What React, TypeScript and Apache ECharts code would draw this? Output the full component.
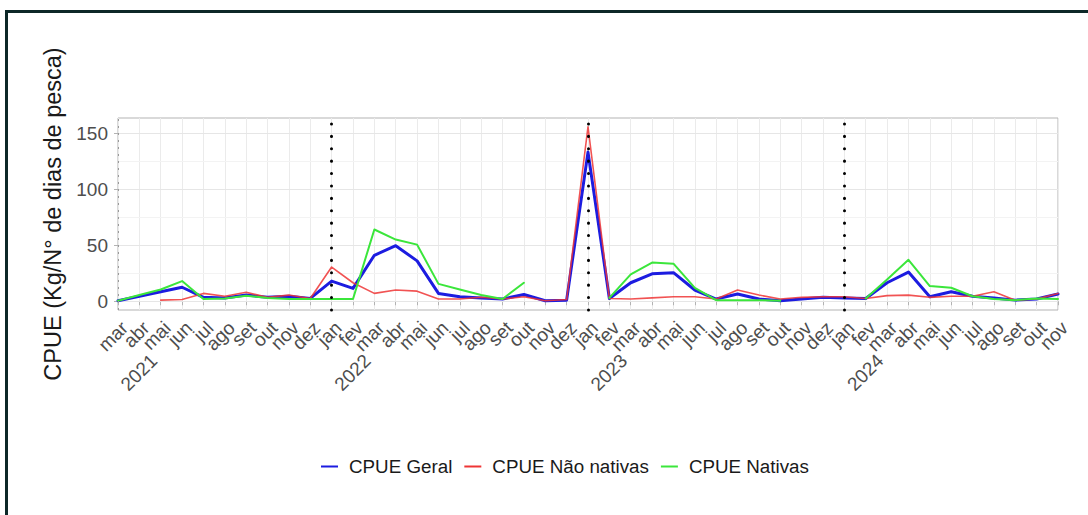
import React, { useEffect, useRef } from "react";
import * as echarts from "echarts";

const FONT = "'Liberation Sans', Arial, Helvetica, sans-serif";

const dates = [
  "2021-03", "2021-04", "2021-05", "2021-06", "2021-07", "2021-08", "2021-09", "2021-10", "2021-11", "2021-12",
  "2022-01", "2022-02", "2022-03", "2022-04", "2022-05", "2022-06", "2022-07", "2022-08", "2022-09", "2022-10", "2022-11", "2022-12",
  "2023-01", "2023-02", "2023-03", "2023-04", "2023-05", "2023-06", "2023-07", "2023-08", "2023-09", "2023-10", "2023-11", "2023-12",
  "2024-01", "2024-02", "2024-03", "2024-04", "2024-05", "2024-06", "2024-07", "2024-08", "2024-09", "2024-10", "2024-11",
];

const monthLabels = [
  "mar", "abr", "mai", "jun", "jul", "ago", "set", "out", "nov", "dez",
  "jan", "fev", "mar", "abr", "mai", "jun", "jul", "ago", "set", "out", "nov", "dez",
  "jan", "fev", "mar", "abr", "mai", "jun", "jul", "ago", "set", "out", "nov", "dez",
  "jan", "fev", "mar", "abr", "mai", "jun", "jul", "ago", "set", "out", "nov",
];

const yearLabels = ["2021", "2022", "2023", "2024"];
const yearStartIndex = [0, 10, 22, 34];

const cpueGeral = [
  0.5, 4.5, 8.5, 12.5, 3.5, 3, 5.5, 3.5, 4.5, 2.5,
  18, 11.5, 41, 49.5, 36, 7, 4, 3, 2, 6, 0.5, 1,
  133, 2.5, 16.5, 24.5, 25.5, 10, 2, 6.5, 2, 0.5, 2, 3.5,
  3, 2.5, 16.5, 26, 4, 8.5, 4.5, 3, 1, 2, 6.5,
];

const cpueNaoNativas = [
  null, null, 1, 1.5, 7, 4.5, 8, 3.5, 5.5, 2.5,
  30.5, 16.5, 7, 10, 9, 2, 2, 3.5, 2, 4, 0.5, 1.5,
  155.6, 2.5, 2, 3, 4, 4, 2, 10, 5.5, 2, 3.5, 4,
  4, 2.5, 5, 5.5, 3.5, 4.5, 4.5, 8.5, 1, 2, 7,
];

const cpueNativas = [
  0.5, 5.5, 10.5, 18, 2, 2.5, 5, 3, 2, 2,
  2, 2, 64, 55, 50.5, 15.5, 10.5, 5.5, 2, 16.5, null, null,
  null, 3, 24, 34.5, 33.5, 12, 1, 1, 1, 0.5, null, null,
  null, 2.5, 19.5, 37, 13.5, 12, 4.5, 2, 1, 2.5, 2,
];

const yTicks = [0, 50, 100, 150];
const yGrid = [0, 25, 50, 75, 100, 125, 150];
const yearBreaks = ["2022-01", "2023-01", "2024-01"];

const seriesNames = ["CPUE Geral", "CPUE Não nativas", "CPUE Nativas"];

export default function App() {
  const ref = useRef<HTMLDivElement>(null);

  useEffect(() => {
    if (!ref.current) return;
    const chart = echarts.init(ref.current, undefined, { renderer: "svg" });
    const option: any = {
      animation: false,
      textStyle: { fontFamily: FONT },
      grid: {
        left: 118,
        top: 118,
        width: 940,
        height: 192,
        show: true,
        borderColor: "#b3b3b3",
        borderWidth: 1,
        backgroundColor: "transparent",
        containLabel: false,
      },
      legend: {
        data: seriesNames,
        left: 316,
        top: 452,
        icon: "rect",
        itemWidth: 17,
        itemHeight: 2,
        itemGap: 12,
        textStyle: { fontSize: 18.8, color: "#1a1a1a", fontFamily: FONT, padding: [0, 0, 0, 6] },
      },
      xAxis: [
        {
          type: "category",
          data: dates,
          boundaryGap: false,
          axisLine: { show: false },
          axisTick: { show: true, interval: 0, length: 4, lineStyle: { color: "#b3b3b3" } },
          splitLine: { show: true, interval: 0, lineStyle: { color: "#ebebeb", width: 1 } },
          axisLabel: {
            interval: 0,
            rotate: 45,
            margin: 8,
            align: "right",
            verticalAlign: "top",
            fontSize: 19,
            color: "#4d4d4d",
            fontFamily: FONT,
            formatter: (_v: string, i: number) => monthLabels[i],
          },
        },
        {
          type: "category",
          data: dates,
          boundaryGap: false,
          position: "bottom",
          axisLine: { show: false },
          axisTick: { show: false },
          splitLine: { show: false },
          axisLabel: {
            interval: 0,
            rotate: 45,
            margin: 33,
            padding: [11, 0, 0, 0],
            align: "right",
            verticalAlign: "top",
            fontSize: 19,
            color: "#4d4d4d",
            fontFamily: FONT,
            formatter: (_v: string, i: number) => {
              const k = yearStartIndex.indexOf(i - 1);
              return k >= 0 ? yearLabels[k] : "";
            },
          },
        },
      ],
      yAxis: {
        type: "value",
        min: -7.8,
        max: 163.4,
        axisLine: { show: false },
        axisTick: { show: true, length: 4, customValues: yTicks, lineStyle: { color: "#b3b3b3" } },
        axisLabel: { customValues: yTicks, fontSize: 19, color: "#4d4d4d", margin: 10, fontFamily: FONT },
        splitLine: { show: false },
        name: "CPUE (Kg/N° de dias de pesca)",
        nameLocation: "middle",
        nameGap: 52,
        nameTextStyle: { fontSize: 23.5, color: "#1a1a1a", fontFamily: FONT },
      },
      series: [
        {
          name: "grid",
          type: "line",
          data: [],
          z: 1,
          silent: true,
          markLine: {
            z: 1,
            silent: true,
            symbol: ["none", "none"],
            label: { show: false },
            animation: false,
            data: yGrid.map((v) => ({
              yAxis: v,
              lineStyle: { color: v % 50 === 0 ? "#e6e6e6" : "#f3f3f3", width: 1, type: "solid" },
            })),
          },
        },
        {
          name: seriesNames[0],
          type: "line",
          data: cpueGeral,
          symbol: "none",
          connectNulls: false,
          z: 3,
          itemStyle: { color: "#1c1ce0" },
          lineStyle: { color: "#1c1ce0", width: 3, join: "round", cap: "round" },
        },
        {
          name: seriesNames[1],
          type: "line",
          data: cpueNaoNativas,
          symbol: "none",
          connectNulls: false,
          z: 4,
          itemStyle: { color: "#ee3535" },
          lineStyle: { color: "#ee3535", width: 1.6, opacity: 0.85, join: "round", cap: "round" },
        },
        {
          name: seriesNames[2],
          type: "line",
          data: cpueNativas,
          symbol: "none",
          connectNulls: false,
          z: 5,
          itemStyle: { color: "#3be63b" },
          lineStyle: { color: "#3be63b", width: 2, join: "round", cap: "round" },
        },
        {
          name: "breaks",
          type: "line",
          data: [],
          z: 10,
          silent: true,
          markLine: {
            z: 10,
            silent: true,
            symbol: ["none", "none"],
            label: { show: false },
            animation: false,
            data: [
              ...yearBreaks.map((d) => ({
                xAxis: d,
                lineStyle: { color: "#000000", width: 3, type: [0.1, 12.3], cap: "round" },
              })),
              {
                xAxis: dates[0],
                lineStyle: { color: "#9a9a9a", width: 1, type: [2, 5] },
              },
            ],
          },
        },
      ],
    };
    chart.setOption(option);
    return () => chart.dispose();
  }, []);

  return (
    <div
      style={{
        position: "fixed",
        left: 0,
        top: 0,
        width: 1088,
        height: 515,
        overflow: "hidden",
        background: "#ffffff",
      }}
    >
      <div ref={ref} style={{ position: "absolute", left: 0, top: 0, width: 1088, height: 515 }} />
      <div
        style={{
          position: "absolute",
          left: 5,
          top: 10,
          width: 1300,
          height: 700,
          border: "3px solid #0d2828",
          boxSizing: "border-box",
          pointerEvents: "none",
        }}
      />
    </div>
  );
}
